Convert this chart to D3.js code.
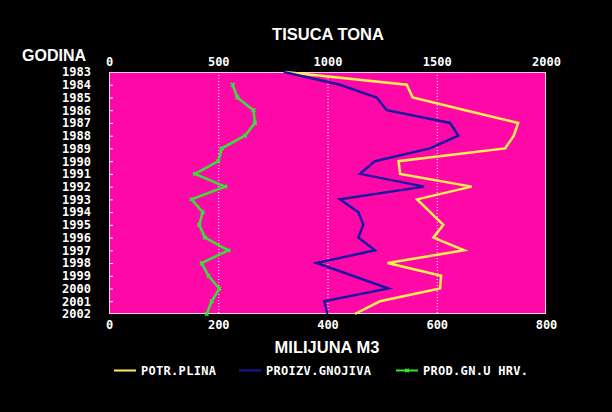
<!DOCTYPE html>
<html>
<head>
<meta charset="utf-8">
<script src="https://cdn.jsdelivr.net/npm/d3@7"></script>
<style>
  html, body { margin: 0; padding: 0; background: #000; }
  svg { display: block; }
</style>
</head>
<body>
<svg id="chart" width="612" height="412"></svg>
<script>
// ---- data ----
const years = [1983,1984,1985,1986,1987,1988,1989,1990,1991,1992,1993,1994,1995,1996,1997,1998,1999,2000,2001,2002];
// POTR.PLINA (MILIJUNA M3, bottom axis)
const gasConsumption = [322,545,556,652,749,741,725,530,533,664,564,588,612,594,650,510,608,606,496,450];
// PROIZV.GNOJIVA (TISUCA TONA, top axis)
const fertilizerProduction = [800,1057,1225,1271,1561,1599,1469,1217,1149,1442,1057,1141,1164,1141,1217,950,1115,1279,985,1000];
// PROD.GN.U HRV. (TISUCA TONA, top axis)
const fertilizerSalesHrv = [null,566,587,661,668,622,516,500,394,531,378,429,413,439,546,424,455,505,470,447];
const topTicks = [0,500,1000,1500,2000];
const bottomTicks = [0,200,400,600,800];
const seriesNames = ["POTR.PLINA","PROIZV.GNOJIVA","PROD.GN.U HRV."];

// ---- layout ----
const svg = d3.select("#chart");
const L = 109, R = 546, T = 72, B = 314;
const xTop = d3.scaleLinear().domain([0,2000]).range([L,R]);
const xBot = d3.scaleLinear().domain([0,800]).range([L,R]);
const y = d3.scalePoint().domain(years).range([T,B]);

const mono = "'DejaVu Sans Mono', monospace";
const sans = "'Liberation Sans', Arial, sans-serif";

svg.append("rect").attr("width",612).attr("height",412).attr("fill","#000");

// plot area
svg.append("rect").attr("x",L).attr("y",T).attr("width",R-L).attr("height",B-T)
  .attr("fill","#ff08a8");

// dotted grid
svg.append("g").selectAll("line").data(topTicks.slice(1,-1)).join("line")
  .attr("x1",d=>xTop(d)+0.5).attr("x2",d=>xTop(d)+0.5)
  .attr("y1",T).attr("y2",B)
  .attr("stroke","#fff").attr("stroke-width",1).attr("stroke-dasharray","1,2");

// year axis
const yAxis = d3.axisLeft(y).tickSizeInner(-4).tickSizeOuter(0).tickPadding(18);
const gy = svg.append("g").attr("transform",`translate(${L},0)`).call(yAxis);
gy.select(".domain").remove();
gy.selectAll(".tick line").attr("stroke","#fff")
  .attr("display",d=> (d===years[0]||d===years[years.length-1]) ? "none" : null);
gy.selectAll("text").attr("fill","#fff").attr("font-family",mono)
  .attr("font-weight","bold").attr("font-size",12);

// top axis
const gt = svg.append("g").attr("transform",`translate(0,66)`)
  .call(d3.axisTop(xTop).tickValues(topTicks).tickFormat(d3.format("d")).tickSize(0).tickPadding(0));
gt.select(".domain").remove();
gt.selectAll("text").attr("fill","#fff").attr("font-family",mono)
  .attr("font-weight","bold").attr("font-size",12);

// bottom axis
const gb = svg.append("g").attr("transform",`translate(0,320)`)
  .call(d3.axisBottom(xBot).tickValues(bottomTicks).tickFormat(d3.format("d")).tickSize(0).tickPadding(0));
gb.select(".domain").remove();
gb.selectAll("text").attr("fill","#fff").attr("font-family",mono)
  .attr("font-weight","bold").attr("font-size",12);

// border
svg.append("rect").attr("x",L+0.5).attr("y",T+0.5).attr("width",R-L-1).attr("height",B-T-1)
  .attr("fill","none").attr("stroke","#ffd0ee").attr("stroke-width",1);

// titles
svg.append("text").attr("x",328).attr("y",40).attr("text-anchor","middle")
  .attr("fill","#fff").attr("font-family",sans).attr("font-weight","bold").attr("font-size",16.5)
  .text("TISUCA TONA");
svg.append("text").attr("x",22).attr("y",61)
  .attr("fill","#fff").attr("font-family",sans).attr("font-weight","bold").attr("font-size",16)
  .text("GODINA");
svg.append("text").attr("x",327).attr("y",353).attr("text-anchor","middle")
  .attr("fill","#fff").attr("font-family",sans).attr("font-weight","bold").attr("font-size",16.5)
  .text("MILIJUNA M3");

// lines
const colors = ["#fff050","#1c16a0","#38e03a"];
const lineGas = d3.line().defined(d=>d[1]!=null).x(d=>xBot(d[1])).y(d=>y(d[0]));
const lineTop = d3.line().defined(d=>d[1]!=null).x(d=>xTop(d[1])).y(d=>y(d[0]));

svg.append("path").datum(years.map((yr,i)=>[yr,gasConsumption[i]]))
  .attr("d",lineGas).attr("fill","none").attr("stroke",colors[0]).attr("stroke-width",2.5)
  .attr("stroke-linejoin","miter");
svg.append("path").datum(years.map((yr,i)=>[yr,fertilizerProduction[i]]))
  .attr("d",lineTop).attr("fill","none").attr("stroke",colors[1]).attr("stroke-width",2.5);
const greenData = years.map((yr,i)=>[yr,fertilizerSalesHrv[i]]);
svg.append("path").datum(greenData)
  .attr("d",lineTop).attr("fill","none").attr("stroke",colors[2]).attr("stroke-width",2.5);
svg.append("g").selectAll("path").data(greenData.filter(d=>d[1]!=null)).join("path")
  .attr("d",d3.symbol(d3.symbolCross,14))
  .attr("transform",d=>`translate(${xTop(d[1])},${y(d[0])}) rotate(45)`)
  .attr("fill",colors[2]);

// legend
const legX = [114,239,396];
const lg = svg.append("g");
seriesNames.forEach((name,i)=>{
  lg.append("line").attr("x1",legX[i]).attr("x2",legX[i]+22).attr("y1",370.5).attr("y2",370.5)
    .attr("stroke",colors[i]).attr("stroke-width",2);
  if(i===2){
    lg.append("path").attr("d",d3.symbol(d3.symbolCross,14))
      .attr("transform",`translate(${legX[i]+11},370.5) rotate(45)`).attr("fill",colors[i]);
  }
  lg.append("text").attr("x",legX[i]+27).attr("y",375)
    .attr("fill","#fff").attr("font-family",mono).attr("font-weight","bold").attr("font-size",12)
    .attr("letter-spacing",0.3)
    .text(name);
});
</script>
</body>
</html>
